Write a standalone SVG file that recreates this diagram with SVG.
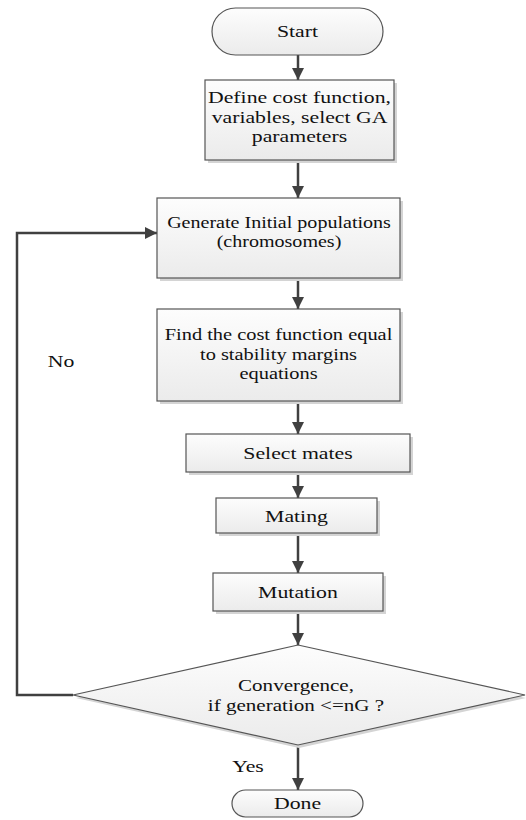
<svg xmlns="http://www.w3.org/2000/svg" width="526" height="820" viewBox="0 0 526 820">
<defs>
<linearGradient id="fill" x1="0" y1="0" x2="0" y2="1">
<stop offset="0" stop-color="#fdfdfd"/>
<stop offset="1" stop-color="#ebebeb"/>
</linearGradient>
<marker id="arr" viewBox="0 0 10 10" refX="10" refY="5" markerWidth="12" markerHeight="12" markerUnits="userSpaceOnUse" orient="auto">
<path d="M0,0 L10,5 L0,10 z" fill="#404040"/>
</marker>
</defs>
<style>
.shape{fill:url(#fill);stroke:#555;stroke-width:1.2}
.shadow{fill:#d4d4d4;stroke:none}
.t{font-family:"Liberation Serif","Times New Roman",serif;font-size:17px;fill:#111;text-anchor:middle}
.c{fill:none;stroke:#404040;stroke-width:2.5}
</style>
<g id="connectors">
<line class="c" x1="298" y1="55" x2="298" y2="80" marker-end="url(#arr)"/>
<line class="c" x1="298" y1="160" x2="298" y2="198" marker-end="url(#arr)"/>
<line class="c" x1="298" y1="278" x2="298" y2="309" marker-end="url(#arr)"/>
<line class="c" x1="298" y1="401" x2="298" y2="434" marker-end="url(#arr)"/>
<line class="c" x1="298" y1="472" x2="298" y2="498" marker-end="url(#arr)"/>
<line class="c" x1="298" y1="533" x2="298" y2="573" marker-end="url(#arr)"/>
<line class="c" x1="298" y1="611" x2="298" y2="645" marker-end="url(#arr)"/>
<line class="c" x1="298" y1="745" x2="298" y2="790" marker-end="url(#arr)"/>
<polyline class="c" points="73,695 17,695 17,233 157,233" marker-end="url(#arr)"/>
<g transform="translate(61 0) scale(1.28 1)"><text class="t" x="0" y="367">No</text></g>
<g transform="translate(248 0) scale(1.28 1)"><text class="t" x="0" y="772">Yes</text></g>
</g>
<g id="start">
<rect class="shape" x="212" y="8" width="171" height="47" rx="23.5" ry="23.5"/>
<g transform="translate(297.5 0) scale(1.28 1)"><text class="t" x="0" y="37">Start</text></g>
</g>
<g id="define">
<rect class="shadow" x="208" y="83" width="189" height="80"/>
<rect class="shape" x="205" y="80" width="189" height="80"/>
<g transform="translate(299.5 0) scale(1.28 1)">
<text class="t" x="0" y="103">Define cost function,</text>
<text class="t" x="0" y="123">variables, select GA</text>
<text class="t" x="0" y="142">parameters</text>
</g>
</g>
<g id="generate">
<rect class="shadow" x="160" y="201" width="243" height="80"/>
<rect class="shape" x="157" y="198" width="243" height="80"/>
<g transform="translate(279 0) scale(1.18 1)">
<text class="t" x="0" y="228">Generate Initial populations</text>
<text class="t" x="0" y="247">(chromosomes)</text>
</g>
</g>
<g id="find">
<rect class="shadow" x="160" y="312" width="243" height="92"/>
<rect class="shape" x="157" y="309" width="243" height="92"/>
<g transform="translate(278.5 0) scale(1.2 1)">
<text class="t" x="0" y="340">Find the cost function equal</text>
<text class="t" x="0" y="360">to stability margins</text>
<text class="t" x="0" y="379">equations</text>
</g>
</g>
<g id="select">
<rect class="shadow" x="189" y="437" width="224" height="38"/>
<rect class="shape" x="186" y="434" width="224" height="38"/>
<g transform="translate(298 0) scale(1.28 1)"><text class="t" x="0" y="459">Select mates</text></g>
</g>
<g id="mating">
<rect class="shadow" x="219" y="501" width="161" height="35"/>
<rect class="shape" x="216" y="498" width="161" height="35"/>
<g transform="translate(296.5 0) scale(1.28 1)"><text class="t" x="0" y="522">Mating</text></g>
</g>
<g id="mutation">
<rect class="shadow" x="216" y="576" width="170" height="38"/>
<rect class="shape" x="213" y="573" width="170" height="38"/>
<g transform="translate(298 0) scale(1.28 1)"><text class="t" x="0" y="598">Mutation</text></g>
</g>
<g id="decision">
<polygon class="shadow" points="299,648 526,698 299,748 76,698"/>
<polygon class="shape" points="298,645 525,695 298,745 73,695"/>
<g transform="translate(296 0) scale(1.24 1)">
<text class="t" x="0" y="691">Convergence,</text>
<text class="t" x="0" y="711">if generation &lt;=nG ?</text>
</g>
</g>
<g id="done">
<rect class="shape" x="232" y="790" width="131" height="27" rx="13.5" ry="13.5"/>
<g transform="translate(297.5 0) scale(1.28 1)"><text class="t" x="0" y="809">Done</text></g>
</g>
</svg>
